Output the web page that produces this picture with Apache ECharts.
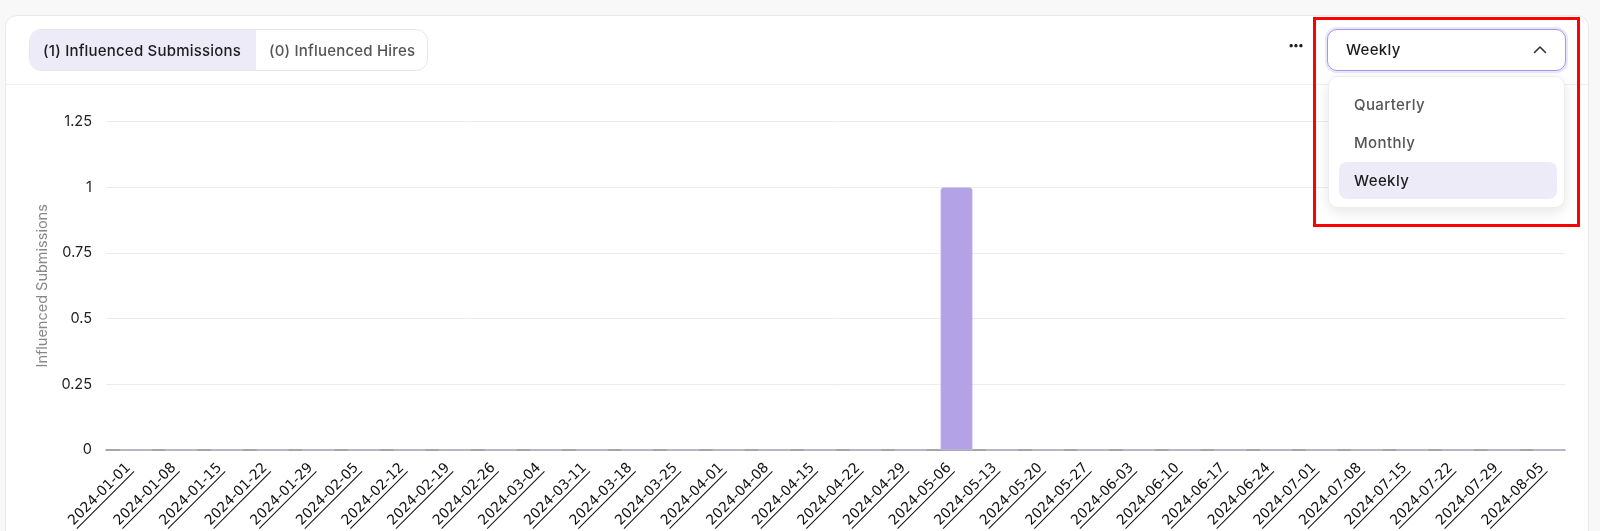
<!DOCTYPE html>
<html>
<head>
<meta charset="utf-8">
<script src="https://cdn.jsdelivr.net/npm/echarts@6/dist/echarts.min.js"></script>
<style>
  html, body { margin:0; padding:0; width:1600px; height:531px; overflow:hidden; background:#f8f8f8; font-family: Inter, "Noto Sans", sans-serif; }
  #card { position:absolute; left:5px; top:15px; width:1584px; height:560px; background:#fff; border:1px solid #e9e9e9; border-radius:12px; box-sizing:border-box; }
  #divider { position:absolute; left:6px; top:84px; width:1582px; height:1px; background:#efefef; }
  #chart { position:absolute; left:0; top:0; width:1600px; height:531px; }
  #tabs { position:absolute; left:29px; top:29px; width:399px; height:42px; border:1px solid #e6e6e6; border-radius:12px; box-sizing:border-box; overflow:hidden; display:flex; font-size:15px; letter-spacing:0.2px; }
  #tabs .tab { height:100%; display:flex; align-items:center; box-sizing:border-box; }
  #tabs .active { width:226px; background:#eeebf8; color:#1d1d1f; padding-left:13px; font-weight:500; }
  #tabs .inactive { color:#555; padding-left:13px; font-weight:500; }
  #dots { position:absolute; left:1288px; top:35px; font-size:18px; font-weight:800; color:#222; letter-spacing:-1.5px; }
  #select { position:absolute; left:1327px; top:29px; width:239px; height:42px; border:1.5px solid #a596ec; border-radius:10px; box-sizing:border-box; box-shadow:0 0 0 2px #ebe6fc; background:#fff; }
  #select .val { position:absolute; left:18px; top:10px; font-size:15px; letter-spacing:0.3px; font-weight:500; color:#1d1d1f; }
  #select svg { position:absolute; right:18px; top:15px; }
  #menu { position:absolute; left:1328px; top:76px; width:237px; height:132px; background:#fff; border:1px solid #eeeeee; border-radius:10px; box-sizing:border-box; box-shadow:0 4px 14px rgba(0,0,0,0.10); }
  #menu .item { position:absolute; left:25px; font-size:15px; letter-spacing:0.4px; font-weight:500; color:#555; }
  #menu .hl { position:absolute; left:10px; top:85px; width:218px; height:37px; background:#eeebf8; border-radius:8px; }
  #redbox { position:absolute; left:1313px; top:17px; width:267px; height:210px; border:3px solid #ff0000; box-sizing:border-box; }
</style>
</head>
<body>
<div id="card"></div>
<div id="divider"></div>
<div id="chart"></div>
<div id="tabs"><div class="tab active">(1) Influenced Submissions</div><div class="tab inactive">(0) Influenced Hires</div></div>
<div id="dots">···</div>
<div id="select"><span class="val">Weekly</span>
  <svg width="14" height="9" viewBox="0 0 14 9"><path d="M1.5 7.5 L7 2 L12.5 7.5" fill="none" stroke="#333" stroke-width="1.6" stroke-linecap="round" stroke-linejoin="round"/></svg>
</div>
<div id="menu">
  <div class="hl"></div>
  <div class="item" style="top:18px">Quarterly</div>
  <div class="item" style="top:56px">Monthly</div>
  <div class="item" style="top:94px;color:#1d1d1f">Weekly</div>
</div>
<div id="redbox"></div>
<script>
const categories = [
  '2024-01-01','2024-01-08','2024-01-15','2024-01-22','2024-01-29',
  '2024-02-05','2024-02-12','2024-02-19','2024-02-26',
  '2024-03-04','2024-03-11','2024-03-18','2024-03-25',
  '2024-04-01','2024-04-08','2024-04-15','2024-04-22','2024-04-29',
  '2024-05-06','2024-05-13','2024-05-20','2024-05-27',
  '2024-06-03','2024-06-10','2024-06-17','2024-06-24',
  '2024-07-01','2024-07-08','2024-07-15','2024-07-22','2024-07-29',
  '2024-08-05'
];
const hires = [
  0,0,0,0,0,
  0,0,0,0,
  0,0,0,0,
  0,0,0,0,0,
  0,0,0,0,
  0,0,0,0,
  0,0,0,0,0,
  0
];
const submissions = [
  0,0,0,0,0,
  0,0,0,0,
  0,0,0,0,
  0,0,0,0,0,
  1,0,0,0,
  0,0,0,0,
  0,0,0,0,0,
  0
];
const yAxisName = 'Influenced Submissions';
const yMin = 0, yMax = 1.25, yInterval = 0.25;

const chart = echarts.init(document.getElementById('chart'), null, { renderer: 'canvas' });
chart.setOption({
  animation: false,
  grid: { left: 106, right: 35, top: 121.7, bottom: 81, containLabel: false, outerBoundsMode: 'none' },
  xAxis: {
    type: 'category',
    data: categories,
    axisLine: { lineStyle: { color: '#8c8c8c', width: 1.5 } },
    axisTick: { show: false },
    axisLabel: {
      interval: 0,
      rotate: 45,
      margin: 16,
      formatter: function (v) { return '{t|' + v + '}\n{u|}'; },
      rich: {
        t: { fontFamily: 'DejaVu Sans', fontSize: 14, color: '#111', lineHeight: 15 },
        u: { width: 81, height: 1, lineHeight: 1, backgroundColor: '#111' }
      }
    }
  },
  yAxis: {
    type: 'value',
    min: yMin, max: yMax, interval: yInterval,
    name: yAxisName,
    nameLocation: 'middle',
    nameGap: 56,
    nameRotate: 90,
    nameTextStyle: { color: '#888', fontSize: 14.5, fontFamily: 'Inter' },
    axisLine: { show: false },
    axisTick: { show: false },
    splitLine: { lineStyle: { color: '#ececec', width: 1 } },
    axisLabel: { color: '#222', fontSize: 14.5, fontFamily: 'Inter', margin: 14 }
  },
  series: [{
    name: '(0) Influenced Hires',
    type: 'bar',
    data: hires,
    barWidth: 32,
    barGap: '-56%',
    itemStyle: { color: '#b3a3e6' }
  }, {
    name: '(1) Influenced Submissions',
    type: 'bar',
    data: submissions,
    barWidth: 32,
    barGap: '-56%',
    itemStyle: { color: '#b3a3e6', borderRadius: [3, 3, 0, 0], borderColor: '#d3c9f4', borderWidth: 0.5 }
  }]
});
</script>
</body>
</html>
